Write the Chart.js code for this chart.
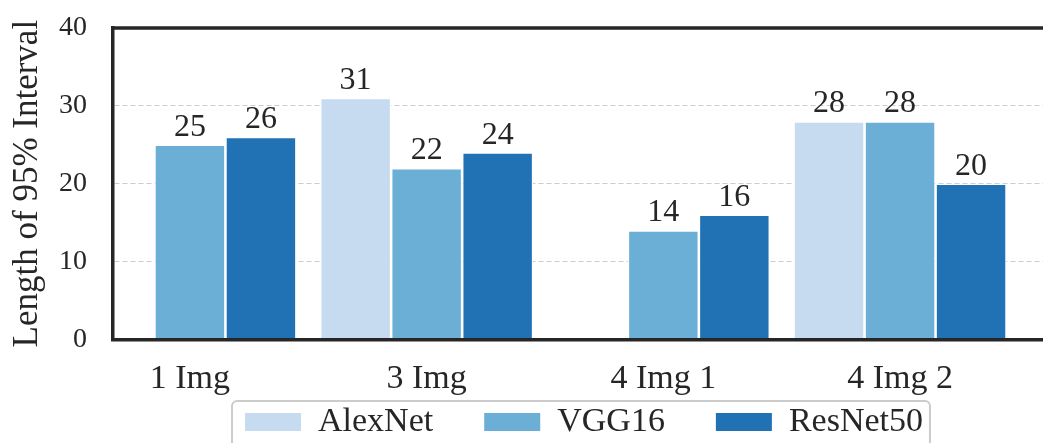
<!DOCTYPE html>
<html>
<head>
<meta charset="utf-8">
<script src="https://cdn.jsdelivr.net/npm/chart.js@4.4.1/dist/chart.umd.min.js"></script>
<style>
html, body { margin: 0; padding: 0; overflow: hidden; background: #ffffff; width: 1043px; height: 443px; }
#wrap { position: relative; width: 1168px; height: 449px; }
</style>
</head>
<body>
<div id="wrap"><canvas id="c" width="1168" height="449"></canvas></div>
<script>
// ---- data ----
const categories = ['1 Img', '3 Img', '4 Img 1', '4 Img 2'];
const seriesNames = ['AlexNet', 'VGG16', 'ResNet50'];
const alexnet = [null, 31, null, 28];
const vgg16 = [25, 22, 14, 28];
const resnet50 = [26, 24, 16, 20];
const yTicks = [0, 10, 20, 30, 40];
const yTitle = 'Length of 95% Interval';

// ---- styles ----
const TEXT = '#262626';
const FONT = "'Liberation Serif', 'Times New Roman', serif";
const colors = ['#c6dbef', '#6baed6', '#2171b5'];
Chart.defaults.font.family = FONT;
Chart.defaults.color = TEXT;

const toPoints = arr => arr.map((v, i) => ({ x: i, y: v }));
const seriesValues = [alexnet, vgg16, resnet50];

const datasets = seriesValues.map((vals, k) => ({
  label: seriesNames[k],
  data: toPoints(vals),
  backgroundColor: colors[k],
  borderColor: '#ffffff',
  borderWidth: 1.3,
  borderSkipped: 'start',
  barPercentage: 1.0,
  categoryPercentage: 0.9
}));

// let the x tick labels overflow the (deliberately short) x-axis box
const noLabelClip = {
  id: 'noLabelClip',
  beforeDraw(chart) {
    const s = chart.scales.x;
    if (s) s._computeLabelArea = () => undefined;
  }
};

const barLabels = {
  id: 'barLabels',
  afterDatasetsDraw(chart) {
    const ctx = chart.ctx;
    ctx.save();
    ctx.font = '32px ' + FONT;
    ctx.fillStyle = TEXT;
    ctx.textAlign = 'center';
    ctx.textBaseline = 'alphabetic';
    chart.data.datasets.forEach((ds, di) => {
      const meta = chart.getDatasetMeta(di);
      meta.data.forEach((el, i) => {
        const v = ds.data[i].y;
        if (v === null || v === undefined) return;
        ctx.fillText(String(Math.round(v)), el.x, el.y - 9);
      });
    });
    ctx.restore();
  }
};

const topFrame = {
  id: 'topFrame',
  afterDraw(chart) {
    const { ctx, chartArea } = chart;
    ctx.save();
    ctx.strokeStyle = TEXT;
    ctx.lineWidth = 3.5;
    ctx.beginPath();
    ctx.moveTo(chartArea.left - 1.75, chartArea.top);
    ctx.lineTo(chartArea.right, chartArea.top);
    ctx.stroke();
    ctx.restore();
  }
};

const legendFrame = {
  id: 'legendFrame',
  afterDraw(chart) {
    const lg = chart.legend;
    if (!lg || !lg.legendHitBoxes || !lg.legendHitBoxes.length) return;
    const hb = lg.legendHitBoxes;
    const first = hb[0], last = hb[hb.length - 1];
    const x0 = first.left - 13;
    const x1 = last.left + last.width + 7;
    const y0 = first.top - 4;
    const y1 = first.top + first.height + 12;
    const ctx = chart.ctx;
    ctx.save();
    ctx.strokeStyle = '#cccccc';
    ctx.lineWidth = 2;
    ctx.beginPath();
    ctx.roundRect(x0, y0, x1 - x0, y1 - y0, 5);
    ctx.stroke();
    ctx.restore();
  }
};

new Chart(document.getElementById('c'), {
  type: 'bar',
  data: { datasets },
  options: {
    responsive: false,
    animation: false,
    events: [],
    layout: { padding: { top: 28, left: 0, right: 0, bottom: 0 } },
    plugins: {
      tooltip: { enabled: false },
      legend: {
        display: true,
        position: 'bottom',
        align: 'center',
        labels: {
          boxWidth: 56,
          boxHeight: 18,
          padding: 51,
          color: TEXT,
          font: { size: 34, family: FONT },
          generateLabels(chart) {
            const items = Chart.defaults.plugins.legend.labels.generateLabels(chart);
            items.forEach(it => { it.lineWidth = 0; it.strokeStyle = 'rgba(0,0,0,0)'; });
            return items;
          }
        }
      }
    },
    scales: {
      x: {
        type: 'linear',
        offset: false,
        min: -0.325,
        max: 4.132,
        afterBuildTicks: s => { s.ticks = categories.map((_, i) => ({ value: i })); },
        afterFit: s => { s.height = 14.7; },
        grid: { display: false },
        border: { display: true, color: TEXT, width: 3.5, z: 1 },
        ticks: {
          autoSkip: false,
          maxRotation: 0,
          minRotation: 0,
          padding: 11.5,
          color: TEXT,
          font: { size: 34, family: FONT },
          callback: v => (categories[v] !== undefined ? categories[v] : '')
        }
      },
      y: {
        min: yTicks[0],
        max: yTicks[yTicks.length - 1],
        afterBuildTicks: s => { s.ticks = yTicks.map(v => ({ value: v })); },
        afterFit: s => { s.width = 113; s.paddingTop = 0; s.paddingBottom = 0; },
        grid: { display: true, color: '#cccccc', lineWidth: 1, drawTicks: false },
        border: { display: true, color: TEXT, width: 3.5, z: 1, dash: [5, 3] },
        ticks: { padding: 26, color: TEXT, font: { size: 28, family: FONT } },
        title: {
          display: true,
          text: yTitle,
          color: TEXT,
          font: { size: 35, family: FONT },
          padding: { top: 7, bottom: 0 }
        }
      }
    }
  },
  plugins: [noLabelClip, barLabels, topFrame, legendFrame]
});
</script>
</body>
</html>
